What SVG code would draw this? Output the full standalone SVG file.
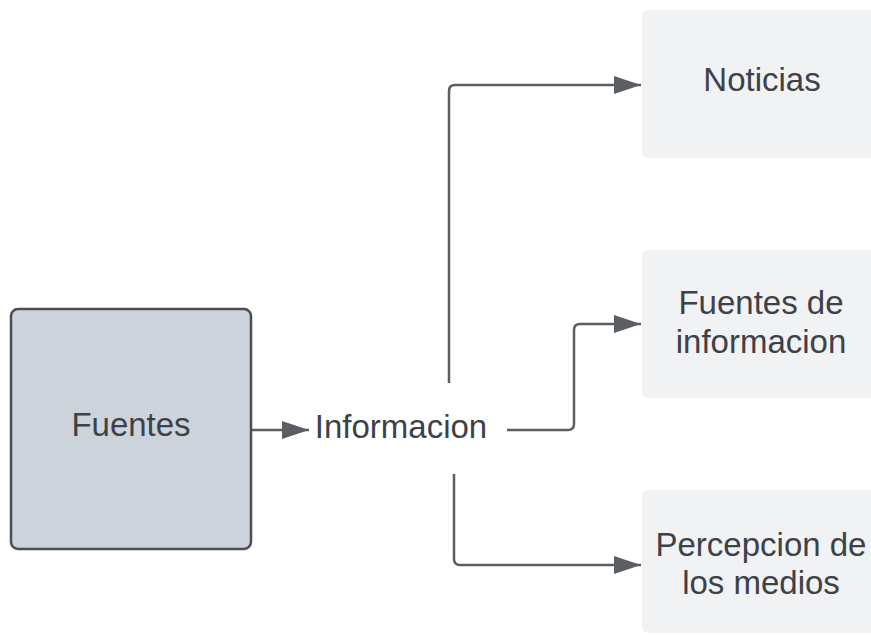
<svg xmlns="http://www.w3.org/2000/svg" width="871" height="635" viewBox="0 0 871 635">
<style>
.t{font-family:"Liberation Sans",Arial,sans-serif;font-size:33px;fill:#3d4148;text-anchor:middle}
.c{fill:none;stroke:#5b5e62;stroke-width:2.5}
.n{fill:#f1f2f4}
</style>
<defs>
<marker id="ah" markerUnits="userSpaceOnUse" markerWidth="28" markerHeight="20" refX="27" refY="9" orient="auto">
<path d="M0,0 L27,9 L0,18 Z" fill="#5b5e62"/>
</marker>
</defs>
<rect width="871" height="635" fill="#ffffff"/>
<g id="connectors">
<path class="c" d="M252,430 H309" marker-end="url(#ah)"/>
<path class="c" d="M449,383 V91 Q449,85 455,85 H641" marker-end="url(#ah)"/>
<path class="c" d="M507,430 H568 Q574,430 574,424 V330 Q574,324 580,324 H641" marker-end="url(#ah)"/>
<path class="c" d="M454,474 V559 Q454,565 460,565 H641" marker-end="url(#ah)"/>
</g>
<g id="fuentes">
<rect x="11" y="309" width="240" height="240" rx="7" fill="#cdd3db" stroke="#4a4e54" stroke-width="2.5"/>
<text class="t" x="131" y="436">Fuentes</text>
</g>
<g id="informacion">
<text class="t" x="401" y="438">Informacion</text>
</g>
<g id="noticias">
<rect class="n" x="642" y="10" width="240" height="148" rx="6"/>
<text class="t" x="762" y="91">Noticias</text>
</g>
<g id="fuentes-de-informacion">
<rect class="n" x="642" y="250" width="240" height="148" rx="6"/>
<text class="t" x="761" y="314">Fuentes de</text>
<text class="t" x="761" y="353">informacion</text>
</g>
<g id="percepcion">
<rect class="n" x="642" y="490" width="240" height="143" rx="6"/>
<text class="t" x="761" y="556">Percepcion de</text>
<text class="t" x="761" y="594">los medios</text>
</g>
</svg>
